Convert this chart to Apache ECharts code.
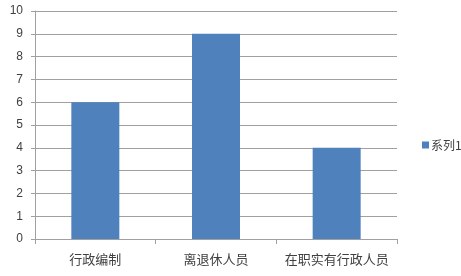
<!DOCTYPE html>
<html><head><meta charset="utf-8">
<script src="https://cdn.jsdelivr.net/npm/echarts@6/dist/echarts.min.js"></script>
<style>html,body{margin:0;padding:0;background:#fff}#c{width:461px;height:276px}</style>
</head><body><div id="c"></div>
<script>
const categories = ['行政编制', '离退休人员', '在职实有行政人员'];
const seriesName = '系列1';
const values = [6, 9, 4];
const yTicks = [0, 10, 1];

const chart = echarts.init(document.getElementById('c'), null, {renderer: 'canvas'});
const font = '"Noto Sans CJK SC", "Liberation Sans", sans-serif';
chart.setOption({
  animation: false,
  grid: {left: 35, right: 64, top: 11, bottom: 37},
  legend: {
    data: [seriesName], orient: 'vertical', left: 417, top: 134,
    icon: 'rect', itemWidth: 7, itemHeight: 7, itemGap: 4,
    textStyle: {fontFamily: font, fontSize: 12, color: '#404040', padding: [0, 0, 0, -3]}
  },
  xAxis: {
    type: 'category', data: categories,
    axisLine: {lineStyle: {color: '#a0a0a0'}},
    axisTick: {show: true, length: 5, alignWithLabel: false, lineStyle: {color: '#a0a0a0'}},
    axisLabel: {interval: 0, fontFamily: font, fontSize: 13, color: '#404040', margin: 14}
  },
  yAxis: {
    type: 'value', min: yTicks[0], max: yTicks[1], interval: yTicks[2],
    axisLine: {show: true, lineStyle: {color: '#a0a0a0'}},
    axisTick: {show: true, length: 4, inside: false, lineStyle: {color: '#a0a0a0'}},
    splitLine: {lineStyle: {color: '#a0a0a0'}},
    axisLabel: {fontFamily: '"Liberation Sans", Arial, sans-serif', fontSize: 12, color: '#404040', margin: 12}
  },
  series: [{
    name: seriesName, type: 'bar', data: values, barWidth: 48,
    itemStyle: {color: '#4f81bd'}
  }]
});
</script></body></html>
